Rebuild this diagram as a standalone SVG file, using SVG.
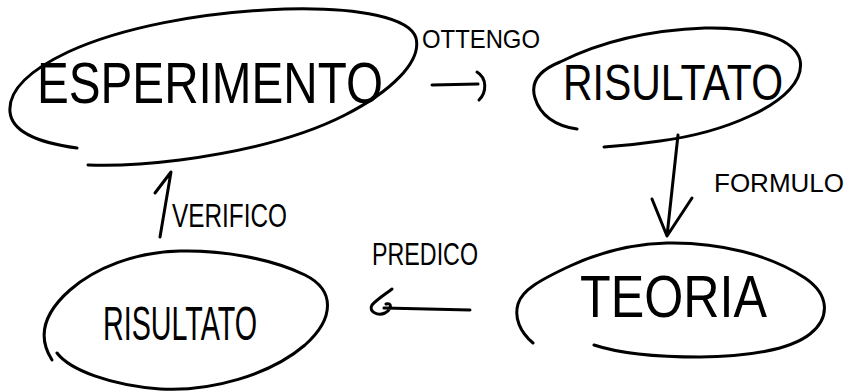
<svg xmlns="http://www.w3.org/2000/svg" width="851" height="391" viewBox="0 0 851 391">
<style>
.s{fill:none;stroke:#000;stroke-width:3;stroke-linecap:round;stroke-linejoin:round}
.t{font-family:"Liberation Sans","DejaVu Sans",sans-serif;fill:#000}
</style>
<rect width="851" height="391" fill="#fff"/>
<g id="esperimento">
<path class="s" d="M77,148 C40,143 12,133 10,112 C8,90 30,70 68,52 C120,28 200,12 285,9 C360,7 410,18 416,38 C422,62 390,92 345,115 C300,138 240,152 180,160 C140,165 110,166 88,165"/>
<text class="t" x="37" y="103" font-size="58" textLength="346" lengthAdjust="spacingAndGlyphs">ESPERIMENTO</text>
</g>
<g id="risultato1">
<path class="s" d="M577,129 C555,126 540,115 535,98 C530,82 540,70 560,62 C600,42 650,30 705,28 C760,27 795,40 800,60 C804,80 785,100 750,116 C720,130 690,137 660,141 C640,144 620,146 604,147"/>
<text class="t" x="563" y="100" font-size="50" textLength="220" lengthAdjust="spacingAndGlyphs">RISULTATO</text>
</g>
<g id="teoria">
<path class="s" d="M533,343 C520,332 514,318 518,304 C522,290 540,280 570,266 C600,252 630,244 667,243 C720,242 770,255 805,278 C830,295 830,318 810,334 C790,350 745,357 700,357 C650,357 615,352 594,345"/>
<text class="t" x="580" y="317" font-size="60" textLength="187" lengthAdjust="spacingAndGlyphs">TEORIA</text>
</g>
<g id="risultato2">
<path class="s" d="M57,353 C70,370 110,385 160,389 C210,392 270,375 305,345 C335,318 335,290 305,275 C270,258 220,250 180,251 C135,252 95,268 70,290 C45,312 36,335 52,360"/>
<text class="t" x="103" y="340" font-size="48" textLength="154" lengthAdjust="spacingAndGlyphs">RISULTATO</text>
</g>
<g id="connectors">
<g id="c-ottengo">
<path class="s" d="M432,85 L478,84 M477,72 C487,78 487,92 479,100"/>
<text class="t" x="422" y="48" font-size="26" textLength="118" lengthAdjust="spacingAndGlyphs">OTTENGO</text>
</g>
<g id="c-formulo">
<path class="s" d="M678,135 L667,236 M652,199 L667,236 L692,198"/>
<text class="t" x="714" y="192" font-size="26">FORMULO</text>
</g>
<g id="c-predico">
<path class="s" d="M384,308 L470,310 M392,289 C384,295 376,300 372,305 C368,312 378,316 385,313 C392,309 392,302 386,304"/>
<text class="t" x="372" y="265" font-size="32" textLength="106" lengthAdjust="spacingAndGlyphs">PREDICO</text>
</g>
<g id="c-verifico">
<path class="s" d="M155,193 L171,172 L160,237"/>
<text class="t" x="172" y="227" font-size="34" textLength="115" lengthAdjust="spacingAndGlyphs">VERIFICO</text>
</g>
</g>
</svg>
